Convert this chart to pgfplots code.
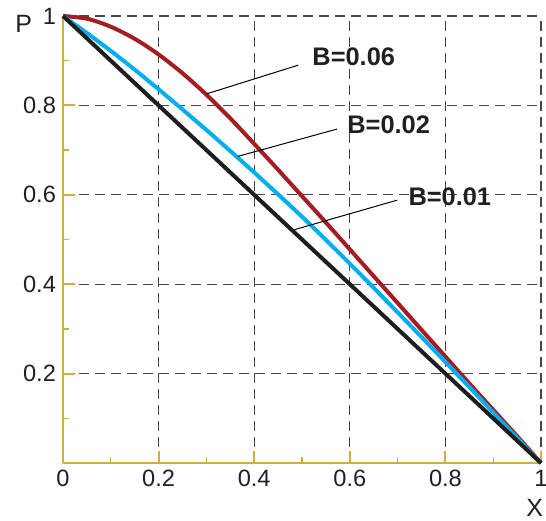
\documentclass[border=0pt]{standalone}
\usepackage{pgfplots}
\pgfplotsset{compat=1.18}
\usepackage{fontspec}
\setmainfont{Liberation Sans}
\definecolor{axgold}{RGB}{214,172,66}
\definecolor{cred}{RGB}{163,29,35}
\definecolor{cblue}{RGB}{0,174,239}
\definecolor{cblack}{RGB}{30,30,30}
\definecolor{txt}{RGB}{35,31,32}
\begin{document}
\begin{tikzpicture}
\begin{axis}[
 width=239pt, height=223.5pt, scale only axis,
 xmin=0,xmax=1,ymin=0,ymax=1,
 axis lines=left, axis line style={-, axgold, line width=1pt},
 xtick={0,0.2,0.4,0.6,0.8,1}, xticklabels={0,0.2,0.4,0.6,0.8,1},
 ytick={0,0.2,0.4,0.6,0.8,1}, yticklabels={,0.2,0.4,0.6,0.8,1},
 minor x tick num=1, minor y tick num=1,
 tick align=inside,
 major tick length=6pt, minor tick length=3pt,
 major tick style={axgold, line width=1pt},
 minor tick style={axgold, line width=0.6pt},
 grid=major,
 major grid style={black!72, line width=0.65pt, dash pattern=on 4.8pt off 3.2pt},
 tick label style={font=\fontsize{11.8}{13}\selectfont, text=txt},
 clip=false,
]
\addplot[cred, line width=2pt, smooth] coordinates {
(0,1) (0.05,0.994) (0.1,0.976) (0.15,0.949) (0.2,0.914) (0.25,0.872) (0.3,0.824)
(0.35,0.771) (0.4,0.714) (0.45,0.656) (0.5,0.597) (0.55,0.538) (0.6,0.478)
(0.65,0.418) (0.7,0.358) (0.75,0.298) (0.8,0.238) (0.85,0.178) (0.9,0.119)
(0.95,0.060) (1,0)};
\addplot[cblue, line width=2pt, smooth] coordinates {
(0,1) (0.05,0.962) (0.1,0.922) (0.15,0.880) (0.2,0.836) (0.25,0.791) (0.3,0.745)
(0.35,0.698) (0.4,0.650) (0.45,0.601) (0.5,0.551) (0.55,0.499) (0.6,0.446)
(0.65,0.392) (0.7,0.337) (0.75,0.282) (0.8,0.226) (0.85,0.170) (0.9,0.113)
(0.95,0.056) (1,0)};
\addplot[cblack, line width=2pt] coordinates {(0,1) (1,0)};
\addplot[black, line width=0.5pt] coordinates {(0.301,0.826) (0.492,0.890)};
\addplot[black, line width=0.5pt] coordinates {(0.366,0.686) (0.573,0.747)};
\addplot[black, line width=0.5pt] coordinates {(0.481,0.521) (0.699,0.588)};
\node[anchor=west, inner sep=0pt, text=txt, font=\fontsize{12.7}{14}\selectfont\bfseries] at (axis cs:0.521,0.908) {B=0.06};
\node[anchor=west, inner sep=0pt, text=txt, font=\fontsize{12.7}{14}\selectfont\bfseries] at (axis cs:0.594,0.756) {B=0.02};
\node[anchor=west, inner sep=0pt, text=txt, font=\fontsize{12.7}{14}\selectfont\bfseries] at (axis cs:0.722,0.595) {B=0.01};
\node[text=txt, inner sep=0pt, font=\fontsize{12.5}{14}\selectfont] at (axis cs:-0.082,0.983) {P};
\node[text=txt, inner sep=0pt, font=\fontsize{12.5}{14}\selectfont] at (axis cs:0.987,-0.101) {X};
\coordinate (bl) at (rel axis cs:0,0);
\coordinate (tr) at (rel axis cs:1,1);
\end{axis}
\pgfresetboundingbox
\path ([xshift=-31.5pt,yshift=-28.5pt]bl) rectangle ([xshift=2.5pt,yshift=8pt]tr);
\end{tikzpicture}
\end{document}
